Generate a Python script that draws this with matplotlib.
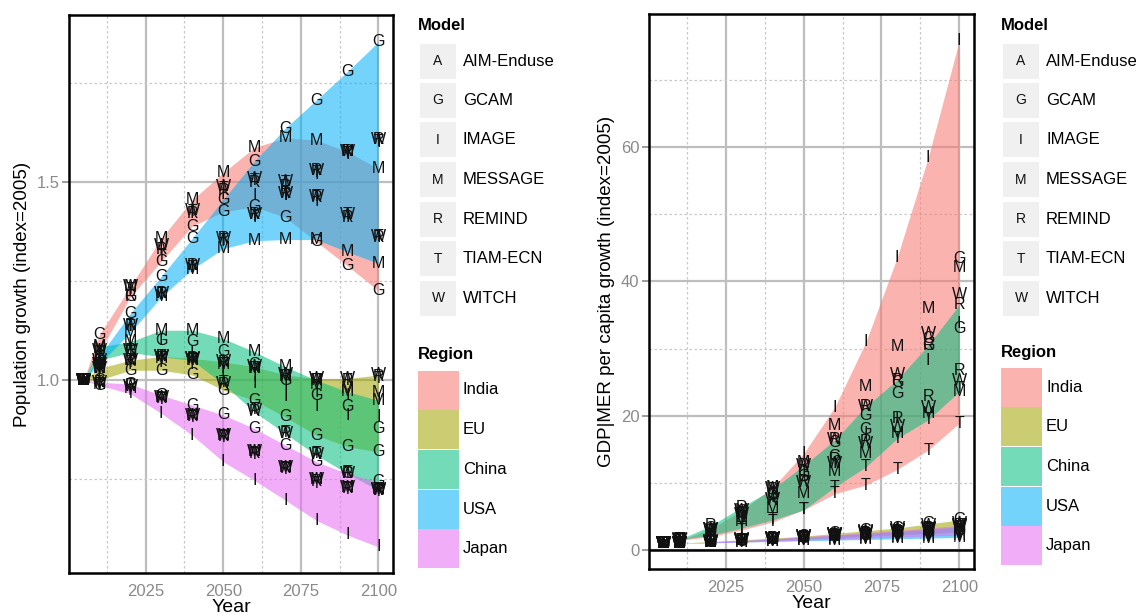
import matplotlib
matplotlib.use("Agg")
import matplotlib.pyplot as plt
from matplotlib.patches import Rectangle
import numpy as np

plt.rcParams['font.family'] = ['Liberation Sans', 'DejaVu Sans']

years = [2005, 2010, 2020, 2030, 2040, 2050, 2060, 2070, 2080, 2090, 2100]
regions = ["India", "EU", "China", "USA", "Japan"]
region_colors = ["#F8766D", "#A3A500", "#00BF7D", "#00B0F6", "#E76BF3"]
models = ["AIM-Enduse", "GCAM", "IMAGE", "MESSAGE", "REMIND", "TIAM-ECN", "WITCH"]
model_letters = ["A", "G", "I", "M", "R", "T", "W"]

# population growth (index=2005), by region and model letter
pop_india = {
    "G": [1, 1.114, 1.21, 1.30, 1.389, 1.425, 1.438, 1.411, 1.35, 1.289, 1.226],
    "I": [1, 1.07, 1.225, 1.33, 1.42, 1.47, 1.467, 1.47, 1.45, 1.41, 1.36],
    "M": [1, 1.08, 1.236, 1.358, 1.455, 1.524, 1.587, 1.612, 1.606, 1.577, 1.534],
    "R": [1, 1.07, 1.21, 1.33, 1.42, 1.48, 1.50, 1.49, 1.46, 1.41, 1.36],
    "T": [1, 1.07, 1.23, 1.311, 1.425, 1.485, 1.505, 1.50, 1.463, 1.417, 1.362],
    "W": [1, 1.075, 1.236, 1.341, 1.429, 1.488, 1.508, 1.501, 1.463, 1.417, 1.362],
}
pop_eu = {
    "G": [1, 1.0, 1.025, 1.025, 1.013, 0.975, 0.949, 0.907, 0.861, 0.832, 0.819],
    "I": [1, 1.02, 1.04, 1.045, 1.04, 1.03, 1.01, 0.99, 0.97, 0.96, 0.95],
    "M": [1, 1.03, 1.05, 1.055, 1.05, 1.04, 1.03, 1.01, 0.99, 0.98, 0.97],
    "R": [1, 1.03, 1.05, 1.06, 1.055, 1.045, 1.03, 1.01, 1.0, 1.0, 1.01],
    "T": [1, 1.03, 1.045, 1.055, 1.05, 1.04, 1.03, 1.01, 1.0, 1.0, 1.005],
    "W": [1, 1.03, 1.05, 1.059, 1.055, 1.046, 1.034, 1.013, 1.004, 1.004, 1.013],
}
pop_china = {
    "G": [1, 1.05, 1.076, 1.101, 1.097, 1.072, 1.04, 1.0, 0.962, 0.933, 0.878],
    "I": [1, 1.06, 1.09, 1.10, 1.07, 1.021, 0.992, 0.958, 0.933, 0.91, 0.907],
    "M": [1, 1.084, 1.097, 1.126, 1.126, 1.105, 1.072, 1.034, 1.0, 0.971, 0.949],
    "R": [1, 1.05, 1.076, 1.06, 1.05, 0.99, 0.92, 0.865, 0.811, 0.764, 0.725],
    "T": [1, 1.05, 1.07, 1.06, 1.052, 0.995, 0.926, 0.868, 0.815, 0.766, 0.724],
    "W": [1, 1.05, 1.076, 1.059, 1.055, 0.992, 0.924, 0.865, 0.811, 0.764, 0.722],
}
pop_usa = {
    "G": [1, 1.06, 1.168, 1.262, 1.358, 1.456, 1.552, 1.636, 1.707, 1.779, 1.854],
    "I": [1, 1.04, 1.135, 1.215, 1.285, 1.35, 1.41, 1.465, 1.52, 1.57, 1.60],
    "M": [1, 1.04, 1.12, 1.21, 1.28, 1.332, 1.352, 1.355, 1.355, 1.324, 1.295],
    "R": [1, 1.04, 1.139, 1.219, 1.29, 1.358, 1.417, 1.471, 1.529, 1.577, 1.608],
    "T": [1, 1.04, 1.135, 1.215, 1.285, 1.352, 1.412, 1.466, 1.524, 1.572, 1.603],
    "W": [1, 1.04, 1.139, 1.219, 1.29, 1.358, 1.417, 1.471, 1.529, 1.577, 1.608],
}
pop_japan = {
    "G": [1, 0.987, 0.99, 0.962, 0.937, 0.912, 0.878, 0.836, 0.794, 0.764, 0.743],
    "I": [1, 0.99, 0.975, 0.916, 0.861, 0.794, 0.747, 0.697, 0.646, 0.609, 0.579],
    "M": [1, 0.99, 0.98, 0.955, 0.91, 0.86, 0.82, 0.78, 0.75, 0.73, 0.725],
    "R": [1, 0.995, 0.987, 0.954, 0.907, 0.857, 0.815, 0.777, 0.743, 0.726, 0.722],
    "T": [1, 0.99, 0.966, 0.95, 0.905, 0.855, 0.812, 0.775, 0.74, 0.725, 0.72],
    "W": [1, 0.995, 0.985, 0.955, 0.91, 0.86, 0.82, 0.78, 0.75, 0.73, 0.725],
}

# GDP|MER per capita growth (index=2005)
gdp_india = {
    "G": [1, 1.45, 2.9, 5.5, 8.5, 11.5, 16.0, 20.0, 25.0, 31.5, 43.4],
    "I": [1, 1.45, 2.6, 5.0, 9.0, 14.4, 21.3, 31.0, 43.5, 58.4, 75.8],
    "M": [1, 1.45, 3.0, 5.9, 9.3, 13.1, 18.6, 24.4, 30.3, 36.0, 42.1],
    "R": [1, 1.45, 2.8, 4.8, 7.4, 10.2, 13.5, 16.2, 19.6, 22.8, 26.7],
    "T": [1, 1.45, 2.0, 3.0, 4.2, 6.0, 8.4, 9.7, 12.0, 14.9, 18.9],
    "W": [1, 1.45, 3.1, 5.9, 9.2, 12.6, 16.4, 21.4, 26.1, 32.3, 38.0],
}
gdp_eu = {
    "G": [1, 1.05, 1.25, 1.5, 1.8, 2.1, 2.5, 2.9, 3.3, 3.9, 4.5],
    "I": [1, 1.05, 1.2, 1.4, 1.6, 1.8, 2.0, 2.2, 2.4, 2.6, 2.8],
    "M": [1, 1.05, 1.2, 1.4, 1.6, 1.8, 2.0, 2.2, 2.4, 2.6, 2.8],
    "R": [1, 1.05, 1.25, 1.45, 1.7, 1.95, 2.2, 2.5, 2.8, 3.1, 3.4],
    "T": [1, 1.05, 1.2, 1.35, 1.5, 1.7, 1.9, 2.1, 2.3, 2.5, 2.7],
    "W": [1, 1.05, 1.3, 1.55, 1.8, 2.1, 2.4, 2.8, 3.2, 3.6, 4.0],
}
gdp_china = {
    "G": [1, 1.6, 3.3, 5.7, 8.3, 10.9, 13.9, 17.9, 23.3, 30.5, 33.0],
    "I": [1, 1.6, 3.0, 5.0, 7.8, 11.5, 12.9, 17.4, 19.6, 28.3, 33.75],
    "M": [1, 1.6, 2.6, 4.2, 6.2, 8.5, 11.7, 14.4, 17.4, 20.3, 23.6],
    "R": [1, 1.6, 3.6, 6.4, 9.1, 12.6, 16.4, 21.4, 25.3, 30.5, 36.5],
    "T": [1, 1.6, 2.2, 3.3, 4.5, 6.0, 9.4, 12.4, 16.6, 19.4, 24.0],
    "W": [1, 1.6, 3.1, 5.3, 7.5, 10.0, 12.9, 15.9, 18.4, 21.3, 25.3],
}
gdp_usa = {
    "G": [1, 1.02, 1.2, 1.4, 1.6, 1.8, 2.0, 2.2, 2.45, 2.7, 3.0],
    "I": [1, 1.02, 1.15, 1.3, 1.45, 1.6, 1.75, 1.9, 2.05, 2.2, 2.35],
    "M": [1, 1.02, 1.1, 1.2, 1.3, 1.4, 1.5, 1.6, 1.7, 1.8, 1.9],
    "R": [1, 1.02, 1.2, 1.4, 1.6, 1.85, 2.1, 2.4, 2.7, 3.0, 3.4],
    "T": [1, 1.02, 1.15, 1.3, 1.45, 1.6, 1.75, 1.9, 2.05, 2.2, 2.4],
    "W": [1, 1.02, 1.2, 1.4, 1.65, 1.9, 2.2, 2.5, 2.8, 3.1, 3.5],
}
gdp_japan = {
    "G": [1, 1.0, 1.15, 1.35, 1.6, 1.85, 2.1, 2.4, 2.7, 3.05, 3.4],
    "I": [1, 1.0, 1.15, 1.3, 1.5, 1.7, 1.9, 2.1, 2.3, 2.5, 2.7],
    "M": [1, 1.0, 1.1, 1.2, 1.35, 1.5, 1.65, 1.8, 1.95, 2.1, 2.25],
    "R": [1, 1.0, 1.2, 1.4, 1.65, 1.9, 2.2, 2.5, 2.8, 3.2, 3.6],
    "T": [1, 1.0, 1.1, 1.25, 1.4, 1.55, 1.7, 1.85, 2.0, 2.15, 2.3],
    "W": [1, 1.0, 1.2, 1.45, 1.7, 2.0, 2.3, 2.6, 2.95, 3.3, 3.7],
}

pop_data = [pop_india, pop_eu, pop_china, pop_usa, pop_japan]
gdp_data = [gdp_india, gdp_eu, gdp_china, gdp_usa, gdp_japan]

ALPHA = 0.55
GRID = "#BEBEBE"
TICKCOL = "#8A8A8A"


def draw_panel(ax, data, ylim, ymajor, yminor, ylabel):
    x = np.array(years)
    for reg, col in zip(data, region_colors):
        vals = np.array([reg[k] for k in reg])
        ax.fill_between(x, vals.min(axis=0), vals.max(axis=0), color=col,
                        alpha=ALPHA, lw=0, zorder=2)
    for reg in data:
        for letter, vals in reg.items():
            for xi, yi in zip(years, vals):
                ax.text(xi, yi, letter, ha="center", va="center", fontsize=11.5,
                        color="#111111", zorder=5)
    ax.set_xlim(2000.25, 2104.75)
    ax.set_ylim(*ylim)
    ax.set_xticks([2025, 2050, 2075, 2100])
    ax.set_xticks([2012.5, 2037.5, 2062.5, 2087.5], minor=True)
    ax.set_yticks(ymajor)
    ax.set_yticks(yminor, minor=True)
    ax.grid(True, which="major", color=GRID, lw=1.6, zorder=0)
    ax.grid(True, which="minor", color="#C8C8C8", lw=0.9, ls=(0, (2, 2)), zorder=0)
    ax.set_axisbelow(True)
    ax.tick_params(axis="y", which="major", length=5, width=1.2, color=TICKCOL,
                   labelcolor=TICKCOL, labelsize=12, pad=2)
    ax.tick_params(axis="x", which="major", length=0, labelcolor=TICKCOL,
                   labelsize=12, pad=8)
    ax.tick_params(which="minor", length=0)
    for sp in ax.spines.values():
        sp.set_color("black")
        sp.set_linewidth(1.8)
    ax.set_xlabel("Year", fontsize=14, labelpad=0)
    ax.set_ylabel(ylabel, fontsize=13.5, labelpad=4)


def draw_legend(fig, x0, ytop_model, ytop_region):
    W, H = 1136.0, 616.0
    fig.text(x0 / W, 1 - ytop_model / H, "Model", fontsize=12, fontweight="bold",
             va="center", ha="left")
    for i, (letter, name) in enumerate(zip(model_letters, models)):
        yc = ytop_model + 36 + i * 39.5
        fig.patches.append(Rectangle(((x0 + 2) / W, 1 - (yc + 17.5) / H), 36 / W, 35 / H,
                                     transform=fig.transFigure, color="#F0F0F0", lw=0))
        fig.text((x0 + 20) / W, 1 - yc / H, letter, fontsize=10, ha="center",
                 va="center", color="#111111")
        fig.text((x0 + 45) / W, 1 - yc / H, name, fontsize=12, ha="left", va="center")
    fig.text(x0 / W, 1 - ytop_region / H, "Region", fontsize=12, fontweight="bold",
             va="center", ha="left")
    for i, (name, col) in enumerate(zip(regions, region_colors)):
        yc = ytop_region + 35 + i * 39.7
        fig.patches.append(Rectangle((x0 / W, 1 - (yc + 19.5) / H), 41 / W, 39 / H,
                                     transform=fig.transFigure, color=col, alpha=ALPHA, lw=0))
        fig.text((x0 + 45) / W, 1 - yc / H, name, fontsize=12, ha="left", va="center")


fig = plt.figure(figsize=(11.36, 6.16), dpi=100)
ax1 = fig.add_axes([69 / 1136, 1 - 573 / 616, 324 / 1136, 558 / 616])
ax2 = fig.add_axes([649 / 1136, 1 - 569 / 616, 325 / 1136, 555 / 616])

draw_panel(ax1, pop_data, (0.513, 1.922), [1.0, 1.5], [0.75, 1.25, 1.75],
           "Population growth (index=2005)")
ax1.set_yticklabels(["1.0", "1.5"])

draw_panel(ax2, gdp_data, (-2.8, 79.8), [0, 20, 40, 60], [10, 30, 50, 70],
           "GDP|MER per capita growth (index=2005)")
ax2.axhline(0, color="black", lw=1.8, zorder=3)

draw_legend(fig, 418, 25, 355)
draw_legend(fig, 1001, 25, 352)

fig.savefig("out.png", dpi=100)
